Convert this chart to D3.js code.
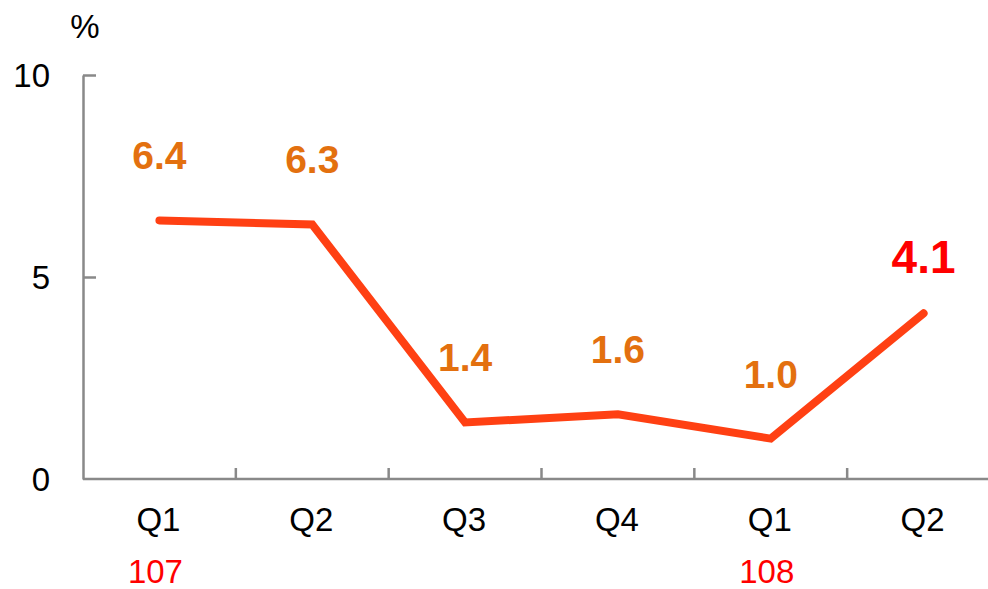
<!DOCTYPE html>
<html>
<head>
<meta charset="utf-8">
<script src="https://cdn.jsdelivr.net/npm/d3@7"></script>
<style>
  body { margin: 0; background: #fff; }
  svg { display: block; font-family: Arial, "Liberation Sans", sans-serif; }
  .axis path, .axis line { stroke: #898989; stroke-width: 2.5; }
</style>
</head>
<body>
<div id="chart"></div>
<script>
// data
var quarters = ["Q1", "Q2", "Q3", "Q4", "Q1", "Q2"];
var years = ["107", "", "", "", "108", ""];
var rates = [6.4, 6.3, 1.4, 1.6, 1.0, 4.1];
var yTicks = [0, 5, 10];

var width = 988, height = 589;
var margin = { top: 75, right: -12, bottom: 110, left: 83 };

var svg = d3.select("#chart").append("svg")
    .attr("width", width)
    .attr("height", height);

var keys = quarters.map(function (q, i) { return i; });

var x = d3.scaleBand()
    .domain(keys)
    .range([margin.left, width - margin.right]);

var y = d3.scaleLinear()
    .domain([0, 10])
    .range([height - margin.bottom, margin.top]);

// y axis, ticks pointing into the plot
var yAxis = d3.axisLeft(y).tickValues(yTicks).tickSize(-13).tickSizeOuter(0).tickFormat(d3.format("d"));
var gy = svg.append("g")
    .attr("class", "axis")
    .attr("transform", "translate(" + margin.left + ",0)")
    .call(yAxis);
gy.selectAll("line").filter(function (d) { return d === 0; }).remove();
gy.selectAll("text")
    .attr("x", -33)
    .attr("dy", "0.35em")
    .style("font-size", "33px")
    .style("fill", "#000");

svg.append("text")
    .attr("x", 85)
    .attr("y", 38)
    .attr("text-anchor", "middle")
    .style("font-size", "33px")
    .text("%");

// x axis: category ticks sit between bands, pointing up
var gx = svg.append("g")
    .attr("class", "axis")
    .attr("transform", "translate(0," + y(0) + ")");
gx.append("path")
    .attr("d", "M" + x.range()[0] + ",0H" + x.range()[1]);
gx.selectAll("line")
    .data(keys.slice(1))
    .enter().append("line")
    .attr("x1", function (d) { return x(d); })
    .attr("x2", function (d) { return x(d); })
    .attr("y1", 0)
    .attr("y2", -11);

gx.selectAll(".q")
    .data(keys)
    .enter().append("text")
    .attr("class", "q")
    .attr("x", function (d) { return x(d) + x.bandwidth() / 2 - 1; })
    .attr("y", 52)
    .attr("text-anchor", "middle")
    .style("font-size", "33px")
    .text(function (d) { return quarters[d]; });

gx.selectAll(".yr")
    .data(keys)
    .enter().append("text")
    .attr("class", "yr")
    .attr("x", function (d) { return x(d) + x.bandwidth() / 2 - 4; })
    .attr("y", 104)
    .attr("text-anchor", "middle")
    .style("font-size", "33px")
    .style("fill", "#ff0000")
    .text(function (d) { return years[d]; });

// the line
var line = d3.line()
    .x(function (d) { return x(d) + x.bandwidth() / 2; })
    .y(function (d) { return y(rates[d]); });

svg.append("path")
    .datum(keys)
    .attr("d", line)
    .attr("fill", "none")
    .attr("stroke", "#ff4013")
    .attr("stroke-width", 8)
    .attr("stroke-linejoin", "miter")
    .attr("stroke-linecap", "round");

// value labels, the latest one in red and larger
var last = keys.length - 1;
svg.selectAll(".val")
    .data(keys)
    .enter().append("text")
    .attr("class", "val")
    .attr("x", function (d) { return x(d) + x.bandwidth() / 2; })
    .attr("y", function (d) { return y(rates[d]) - (d === last ? 40 : 51); })
    .attr("text-anchor", "middle")
    .style("font-weight", "bold")
    .style("font-size", function (d) { return d === last ? "46px" : "39px"; })
    .style("fill", function (d) { return d === last ? "#ff0000" : "#e3700f"; })
    .text(function (d) { return d3.format(".1f")(rates[d]); });
</script>
</body>
</html>
